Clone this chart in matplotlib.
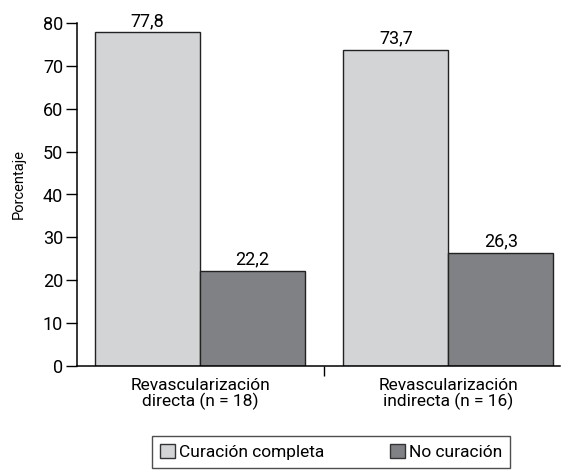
import matplotlib
matplotlib.use('Agg')
import matplotlib.pyplot as plt
from matplotlib.patches import Patch
import numpy as np

plt.rcParams['font.family'] = ['Roboto', 'DejaVu Sans']

groups = ['Revascularización\ndirecta (n = 18)', 'Revascularización\nindirecta (n = 16)']
series = ['Curación completa', 'No curación']
completa = [77.8, 73.7]
no_curacion = [22.2, 26.3]
colors = ['#d3d4d6', '#808184']

W, H = 563, 471
fig = plt.figure(figsize=(W / 100, H / 100), dpi=100)
ax = fig.add_axes([77 / W, 1 - 366 / H, (560 - 77) / W, (366 - 23) / H])

x = np.arange(len(groups))
bw = 0.423
b1 = ax.bar(x - bw / 2, completa, bw, color=colors[0], edgecolor='#222222', linewidth=1)
b2 = ax.bar(x + bw / 2, no_curacion, bw, color=colors[1], edgecolor='#222222', linewidth=1)

# value labels with decimal comma
for bars, vals in [(b1, completa), (b2, no_curacion)]:
    for rect, v in zip(bars, vals):
        ax.text(rect.get_x() + rect.get_width() / 2, v + 0.6, f'{v:.1f}'.replace('.', ','),
                ha='center', va='bottom', fontsize=13)

ax.set_xlim(-0.496, 1.45)
ax.set_ylim(0, 80)
ax.set_yticks(range(0, 81, 10))
ax.tick_params(axis='y', direction='out', length=8, width=1, labelsize=13, pad=2)

# single separator tick between groups, group names as minor labels
ax.set_xticks([0.5])
ax.set_xticklabels([''])
ax.tick_params(axis='x', which='major', direction='out', length=7, width=1)
ax.set_xticks(x, minor=True)
ax.set_xticklabels(groups, minor=True, fontsize=12.5, linespacing=0.95)
ax.tick_params(axis='x', which='minor', length=0, pad=9)

for s in ['top', 'right']:
    ax.spines[s].set_visible(False)
for s in ['left', 'bottom']:
    ax.spines[s].set_linewidth(1.1)

fig.text(19 / W, 1 - 184 / H, 'Porcentaje', rotation=90, ha='center', va='center', fontsize=10.5)

handles = [Patch(facecolor=c, edgecolor='#333333', linewidth=1) for c in colors]
leg = fig.legend(handles, series, loc='upper left', ncol=2, mode='expand',
                 bbox_to_anchor=(152 / W, -0.1, (510 - 152) / W, 1 - 436 / H + 0.1),
                 borderaxespad=0, fontsize=12.5, frameon=True, fancybox=False,
                 handlelength=0.9, handleheight=0.9, handletextpad=0.2,
                 columnspacing=1.0, borderpad=0.45)
leg.get_frame().set_edgecolor('#222222')
leg.get_frame().set_linewidth(1)

fig.savefig('out.png', dpi=100)
